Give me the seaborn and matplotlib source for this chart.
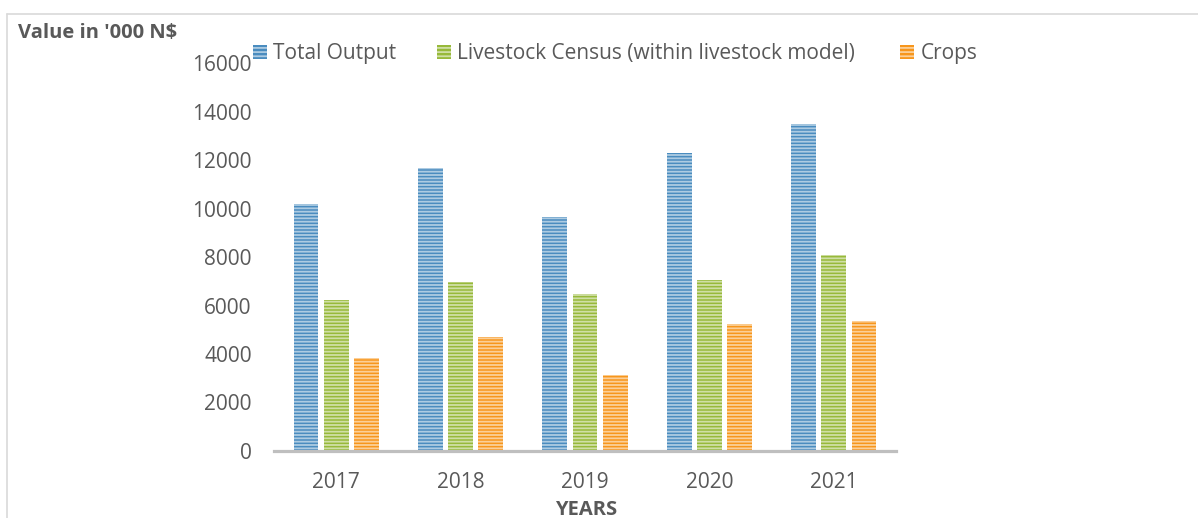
import matplotlib
matplotlib.use("Agg")
import matplotlib.pyplot as plt
import seaborn as sns
import pandas as pd
from matplotlib.patches import Rectangle
from matplotlib.lines import Line2D

years = ["2017", "2018", "2019", "2020", "2021"]
series = ["Total Output", "Livestock Census (within livestock model)", "Crops"]
total_output = [10190, 11670, 9650, 12290, 13490]
livestock = [6230, 6970, 6470, 7050, 8080]
crops = [3830, 4700, 3130, 5240, 5360]
colors = ["#4a8cbf", "#97b93a", "#f7961c"]

df = pd.DataFrame({
    "year": years * 3,
    "series": [series[0]] * 5 + [series[1]] * 5 + [series[2]] * 5,
    "value": total_output + livestock + crops,
})

sns.set_theme(style="white")
FONT = ["Open Sans", "DejaVu Sans"]
plt.rcParams["font.family"] = FONT
plt.rcParams["hatch.linewidth"] = 1.3
TXT = "#595959"
HATCH_EC = (1, 1, 1, 0.55)

fig = plt.figure(figsize=(11.98, 5.18), dpi=100)
ax = fig.add_axes([274 / 1198, 1 - 451 / 518, (896 - 274) / 1198, (451 - 63) / 518])

sns.barplot(data=df, x="year", y="value", hue="series", palette=colors,
            width=0.73, gap=0.18, ax=ax, legend=False, saturation=1)

for patch in ax.patches:
    patch.set_hatch("-----")
    patch.set_edgecolor(HATCH_EC)
    patch.set_linewidth(0)

ax.set_ylim(0, 16000)
ax.set_xlim(-0.5, 4.5)
ax.set_yticks(range(0, 16001, 2000))
for s in ["top", "right", "left"]:
    ax.spines[s].set_visible(False)
ax.spines["bottom"].set_color("#bfbfbf")
ax.spines["bottom"].set_linewidth(2.3)
ax.tick_params(axis="y", length=0, pad=16, labelsize=15, labelcolor=TXT)
ax.tick_params(axis="x", length=0, pad=15, labelsize=15, labelcolor=TXT)
ax.set_xlabel("")
ax.set_ylabel("")

fig.text(586 / 1198, 1 - 510 / 518, "YEARS", ha="center", va="center",
         fontsize=14.5, fontweight="bold", color=TXT)
fig.text(18 / 1198, 1 - 33 / 518, "Value in '000 N$", ha="left", va="center",
         fontsize=14.5, fontweight="bold", color=TXT)

# legend entries placed individually (Excel-style spacing)
leg_x = [253, 437, 900]
for name, c, x in zip(series, colors, leg_x):
    h = Rectangle((0, 0), 1, 1, facecolor=c, edgecolor=HATCH_EC,
                  linewidth=0, hatch="----")
    fig.legend([h], [name], loc="center left",
               bbox_to_anchor=(x / 1198, 1 - 54 / 518), frameon=False,
               fontsize=15, labelcolor=TXT, handlelength=0.68,
               handleheight=0.68, handletextpad=0.3,
               borderaxespad=0, borderpad=0)

# chart frame
fig.add_artist(Line2D([7 / 1198, 1.0], [1 - 14 / 518] * 2, color="#d9d9d9",
                      linewidth=1.2, transform=fig.transFigure))
fig.add_artist(Line2D([7 / 1198] * 2, [1 - 14 / 518, 0], color="#d9d9d9",
                      linewidth=1.2, transform=fig.transFigure))

fig.savefig("out.png", dpi=100)
